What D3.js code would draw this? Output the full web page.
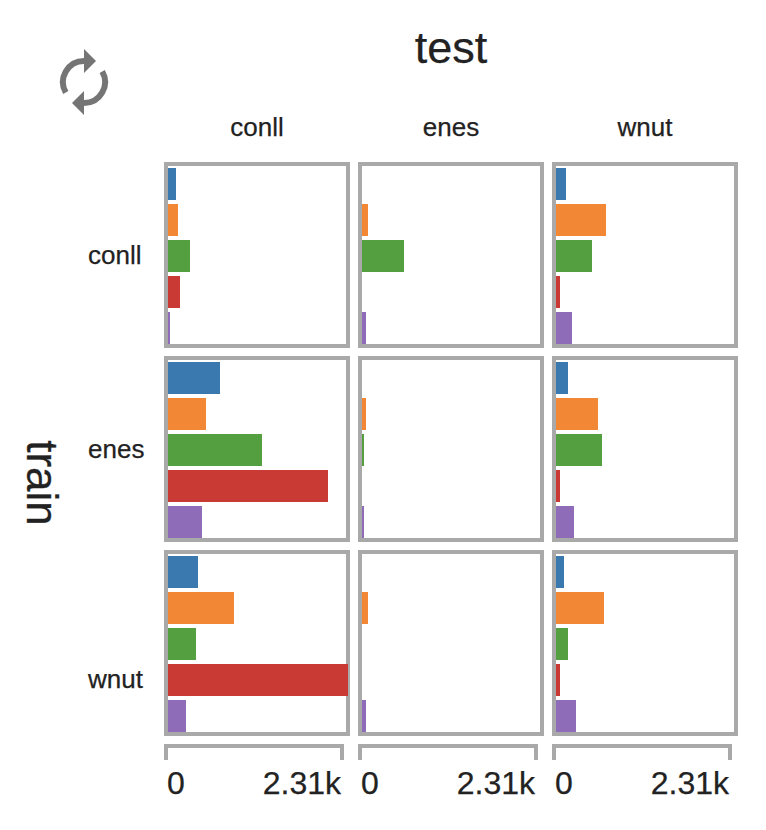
<!DOCTYPE html>
<html>
<head>
<meta charset="utf-8">
<script src="https://cdn.jsdelivr.net/npm/d3@7/dist/d3.min.js"></script>
<style>
html,body{margin:0;padding:0;background:#fff}
svg{display:block}
text{font-family:"Liberation Sans",Arial,sans-serif;fill:#222;stroke:#222;stroke-width:0.25px}
</style>
</head>
<body>
<svg id="chart" width="766" height="830"></svg>
<script>
const testSets = ["conll", "enes", "wnut"];
const trainSets = ["conll", "enes", "wnut"];
const seriesKeys = ["a", "b", "c", "d", "e"];
const seriesColors = ["#3a78b0", "#f28735", "#54a040", "#c83a33", "#8f6cb7"];
const axisMax = 2310;
const axisLabels = ["0", "2.31k"];

// rows: train set, columns: test set, entries follow seriesKeys
const conllConll = [105, 131, 289, 158, 26];
const conllEnes  = [0, 79, 551, 0, 52];
const conllWnut  = [131, 656, 472, 52, 210];
const enesConll  = [682, 499, 1234, 2100, 446];
const enesEnes   = [0, 52, 26, 0, 26];
const enesWnut   = [158, 551, 604, 52, 236];
const wnutConll  = [394, 866, 368, 2363, 236];
const wnutEnes   = [0, 79, 0, 0, 52];
const wnutWnut   = [105, 630, 158, 52, 262];
const grid = [
  [conllConll, conllEnes, conllWnut],
  [enesConll, enesEnes, enesWnut],
  [wnutConll, wnutEnes, wnutWnut]
];
const rowLabelY = [255, 449, 679];

const svg = d3.select("#chart");
const borderColor = "#a9a9a9";

const col = d3.scaleBand().domain(testSets).range([164, 738]).paddingInner(8 / 194);
const row = d3.scaleBand().domain(trainSets).range([162, 736]).paddingInner(8 / 194);
const x = d3.scaleLinear().domain([0, axisMax]).rangeRound([0, 176]);
const y = d3.scaleBand().domain(seriesKeys).range([6, 182]).paddingInner(1 / 9);
const color = d3.scaleOrdinal().domain(seriesKeys).range(seriesColors);

// reload icon
const icon = svg.append("g").attr("fill", "#757575");
[0, 180].forEach(a => {
  const g = icon.append("g").attr("transform", `rotate(${a} 84 82)`);
  g.append("path").attr("d", "M84,61 A21,21 0 0 0 65.8,92.5")
    .attr("fill", "none").attr("stroke", "#757575").attr("stroke-width", 6);
  g.append("path").attr("d", "M84,49 L96,61 L84,73 Z");
});

// titles
svg.append("text").attr("x", 451).attr("y", 63).attr("text-anchor", "middle")
  .attr("font-size", 45).text("test");
svg.append("text").attr("transform", "translate(27,483) rotate(90)")
  .attr("text-anchor", "middle").attr("font-size", 44).text("train");

// column and row labels
svg.selectAll(".col-label").data(testSets).join("text").attr("class", "col-label")
  .attr("x", d => col(d) + col.bandwidth() / 2).attr("y", 136)
  .attr("text-anchor", "middle").attr("font-size", 26).text(d => d);
svg.selectAll(".row-label").data(trainSets).join("text").attr("class", "row-label")
  .attr("x", 88).attr("y", (d, i) => rowLabelY[i]).attr("dy", "0.35em")
  .attr("text-anchor", "start").attr("font-size", 26).text(d => d);

// panels
trainSets.forEach((tr, ri) => {
  testSets.forEach((te, ci) => {
    const p = svg.append("g").attr("transform", `translate(${col(te)},${row(tr)})`);
    p.append("rect").attr("x", 2).attr("y", 2)
      .attr("width", col.bandwidth() - 4).attr("height", row.bandwidth() - 4)
      .attr("fill", "#fff").attr("stroke", borderColor).attr("stroke-width", 4);
    p.selectAll(".bar")
      .data(grid[ri][ci].map((v, i) => ({k: seriesKeys[i], v})).filter(d => d.v > 0))
      .join("rect").attr("class", "bar")
      .attr("x", 4).attr("y", d => y(d.k))
      .attr("width", d => x(d.v)).attr("height", y.bandwidth())
      .attr("fill", d => color(d.k));
  });
});

// x axes
testSets.forEach(te => {
  const axis = d3.axisBottom(x).tickValues([0, axisMax])
    .tickSizeInner(0).tickSizeOuter(14).tickPadding(0).offset(0)
    .tickFormat((d, i) => axisLabels[i]);
  const g = svg.append("g").attr("transform", `translate(${col(te) + 2},746)`).call(axis);
  g.select(".domain").attr("fill", "none").attr("stroke", borderColor).attr("stroke-width", 4);
  g.selectAll(".tick line").remove();
  g.selectAll(".tick text")
    .attr("x", (d, i) => i === 0 ? 1 : -1)
    .attr("y", 48).attr("dy", 0)
    .attr("font-size", 32).attr("font-family", '"Liberation Sans",Arial,sans-serif')
    .attr("text-anchor", (d, i) => i === 0 ? "start" : "end");
});
</script>
</body>
</html>
